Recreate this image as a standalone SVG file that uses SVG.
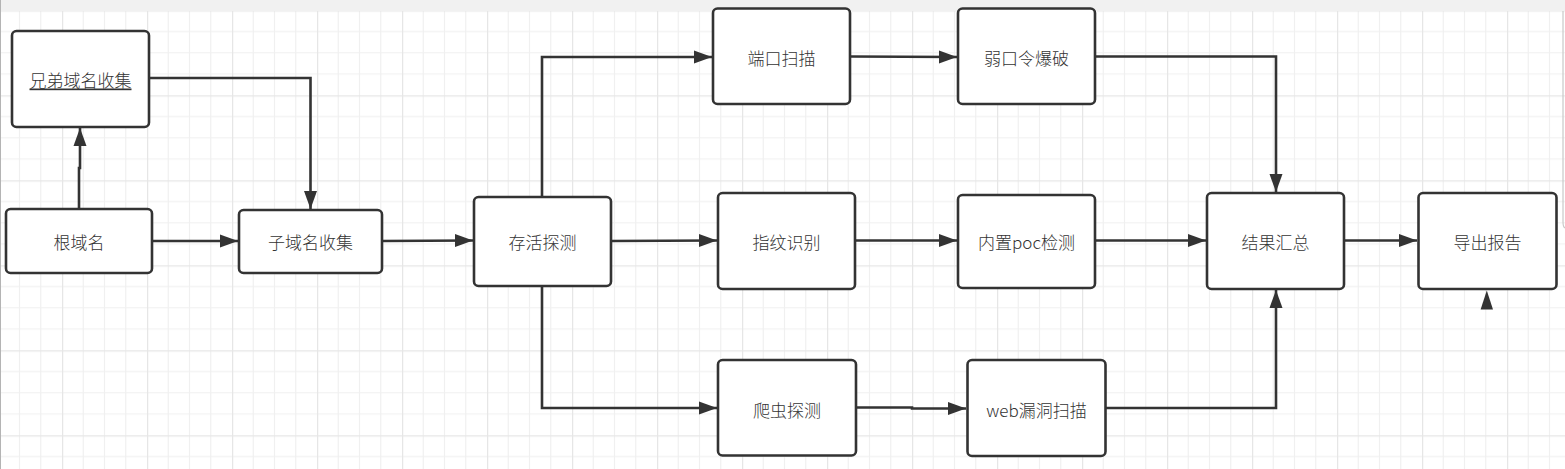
<svg xmlns="http://www.w3.org/2000/svg" width="1565" height="469" viewBox="0 0 1565 469">
  <defs>
    <pattern id="grid" patternUnits="userSpaceOnUse" x="62" y="10.3" width="85" height="85">
      <path d="M21.25,0V85M42.5,0V85M63.75,0V85M0,21.25H85M0,42.5H85M0,63.75H85" stroke="#f0f0f0" stroke-width="1.2" fill="none"/>
      <path d="M0.5,0V85M0,0.5H85" stroke="#e6e6e6" stroke-width="1.5" fill="none"/>
    </pattern>
    <marker id="arr" markerUnits="userSpaceOnUse" markerWidth="19" markerHeight="14" refX="18" refY="7" orient="auto">
      <path d="M0,0.5 L18,7 L0,13.5 z" fill="#333333"/>
    </marker>
    <style>
      .node rect { fill: #ffffff; stroke: #333333; stroke-width: 2.6; }
      .node text { font-family: "Microsoft YaHei", "Noto Sans CJK SC", "Noto Sans", sans-serif; font-size: 17px; font-weight: 300; fill: #333333; text-anchor: middle; dominant-baseline: central; }
      .edge { fill: none; stroke: #333333; stroke-width: 2.6; marker-end: url(#arr); }
    </style>
  </defs>

  <rect x="0" y="0" width="1565" height="469" fill="#ffffff"/>
  <rect x="0" y="11" width="1565" height="458" fill="url(#grid)"/>
  <rect x="0" y="0" width="1565" height="11" fill="#f1f1f1"/>
  <line x1="0.5" y1="0" x2="0.5" y2="469" stroke="#b4b4b4" stroke-width="1"/>
  <path d="M1563,11 V222 Q1563,227 1565,228" fill="none" stroke="#c8c8c8" stroke-width="1.2"/>

  <g id="connectors">
    <path class="edge" d="M79,209 V168 H80 V128"/>
    <path class="edge" d="M149,78 H310.5 V209"/>
    <path class="edge" d="M152,241 H238"/>
    <path class="edge" d="M382,241 L473,240.5"/>
    <path class="edge" d="M542,197 V57 H712"/>
    <path class="edge" d="M611,241 L717,240.5"/>
    <path class="edge" d="M542,286 V408 H717"/>
    <path class="edge" d="M850,56.5 L957,57"/>
    <path class="edge" d="M855,240.5 H957"/>
    <path class="edge" d="M856,407.5 H912 V408.5 H966"/>
    <path class="edge" d="M1095,56.5 H1276 V192"/>
    <path class="edge" d="M1095,240.5 H1206"/>
    <path class="edge" d="M1106,408 H1276 V290"/>
    <path class="edge" d="M1344,240.5 H1417"/>
    <path d="M1486.8,290.5 L1493,309.5 L1480.6,309.5 z" fill="#333333"/>
  </g>

  <g id="n_brother" class="node">
    <rect x="12" y="31" width="137" height="96" rx="4.5"/>
    <text x="80.5" y="79" text-decoration="underline">兄弟域名收集</text>
  </g>
  <g id="n_root" class="node">
    <rect x="6" y="209" width="146" height="64" rx="4.5"/>
    <text x="79" y="241">根域名</text>
  </g>
  <g id="n_sub" class="node">
    <rect x="239" y="210" width="143" height="63" rx="4.5"/>
    <text x="310.5" y="241">子域名收集</text>
  </g>
  <g id="n_alive" class="node">
    <rect x="474" y="197" width="137" height="89" rx="4.5"/>
    <text x="542.5" y="241">存活探测</text>
  </g>
  <g id="n_port" class="node">
    <rect x="713" y="8.5" width="137" height="95.5" rx="4.5"/>
    <text x="781.5" y="57">端口扫描</text>
  </g>
  <g id="n_weak" class="node">
    <rect x="958" y="8.5" width="137" height="95.5" rx="4.5"/>
    <text x="1026.5" y="57">弱口令爆破</text>
  </g>
  <g id="n_finger" class="node">
    <rect x="718" y="193" width="137" height="96" rx="4.5"/>
    <text x="786.5" y="241">指纹识别</text>
  </g>
  <g id="n_poc" class="node">
    <rect x="958" y="195" width="137" height="93" rx="4.5"/>
    <text x="1026.5" y="241">内置poc检测</text>
  </g>
  <g id="n_crawler" class="node">
    <rect x="718" y="360" width="138" height="95.5" rx="4.5"/>
    <text x="787" y="409">爬虫探测</text>
  </g>
  <g id="n_web" class="node">
    <rect x="967.5" y="360" width="138" height="96" rx="4.5"/>
    <text x="1036.5" y="409">web漏洞扫描</text>
  </g>
  <g id="n_result" class="node">
    <rect x="1207" y="193" width="137" height="96" rx="4.5"/>
    <text x="1275.5" y="241">结果汇总</text>
  </g>
  <g id="n_export" class="node">
    <rect x="1418.5" y="193" width="138" height="96" rx="4.5"/>
    <text x="1487.5" y="241">导出报告</text>
  </g>
</svg>
